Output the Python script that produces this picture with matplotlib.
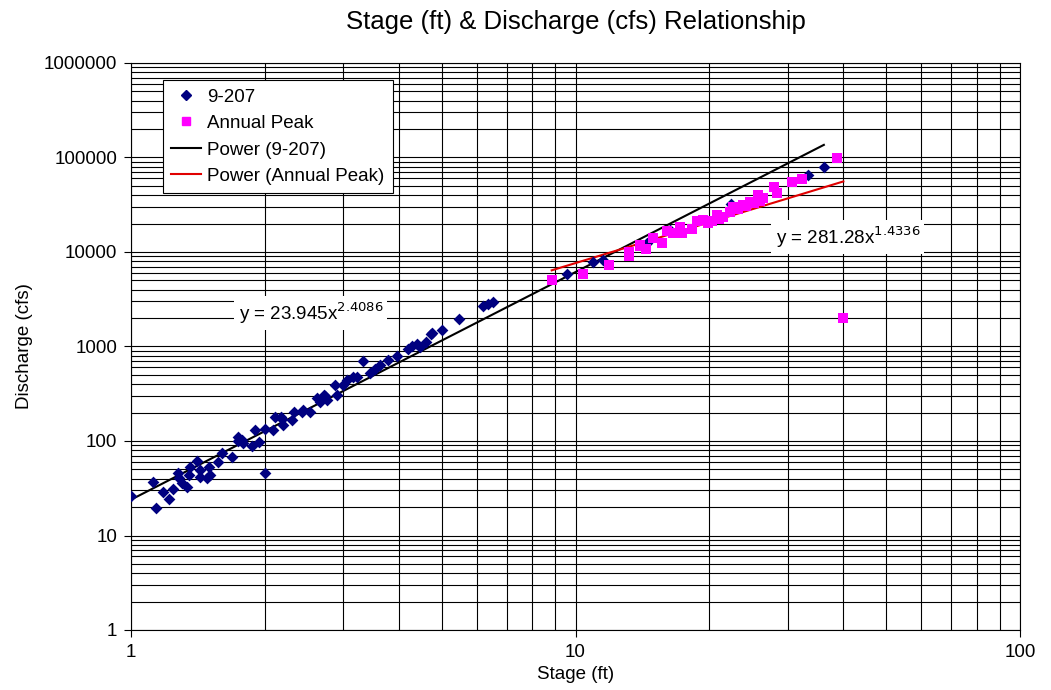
import matplotlib
matplotlib.use("Agg")
import matplotlib.pyplot as plt
from matplotlib.lines import Line2D
from matplotlib.ticker import LogLocator, FixedLocator, NullFormatter, FixedFormatter
import numpy as np

plt.rcParams['font.family'] = ['Liberation Sans', 'DejaVu Sans']

# Series "9-207"
stage_9207 = [1.00, 1.12, 1.136, 1.18, 1.22, 1.245, 1.278, 1.285, 1.30, 1.335, 1.352, 1.357,
              1.41, 1.43, 1.43, 1.485, 1.50, 1.506, 1.572, 1.605, 1.685, 1.744, 1.745, 1.775,
              1.789, 1.869, 1.901, 1.944, 2.002, 2.0, 2.09, 2.109, 2.18, 2.183, 2.195, 2.30,
              2.327, 2.43, 2.44, 2.527, 2.617, 2.66, 2.717, 2.73, 2.755, 2.876, 2.902, 3.005,
              3.057, 3.154, 3.219, 3.32, 3.45, 3.54, 3.63, 3.79, 3.96, 4.21, 4.28, 4.39, 4.47,
              4.62, 4.73, 4.75, 5.0, 5.48, 6.20, 6.37, 6.53, 9.58, 10.96, 11.55, 14.46, 16.32,
              22.35, 33.4, 36.2]
flow_9207 = [26.4, 37.1, 19.7, 28.9, 24.3, 31, 45.5, 40.3, 35.7, 32.8, 43.6, 52.7,
             61.9, 49.3, 41.9, 40.3, 53.5, 43.6, 60.4, 74.1, 67.2, 100.7, 111, 102.5,
             94.6, 88.5, 130.7, 98.4, 133, 45.5, 130.7, 178, 181, 170, 147.6, 167,
             204, 204, 213, 204, 283, 261, 307, 299, 272, 392, 307, 392,
             442, 472, 479, 707, 520, 574, 637, 719, 793, 934, 1012, 1062, 995,
             1124, 1356, 1400, 1496, 1942, 2684, 2800, 2980, 5808, 7890, 8227, 12360, 17100,
             32200, 65300, 78700]

# Series "Annual Peak"
stage_peak = [8.84, 10.38, 11.89, 13.21, 13.21, 13.97, 14.0, 14.41, 14.96, 15.63, 16.04, 16.6,
              17.18, 17.33, 18.24, 18.74, 19.39, 19.9, 20.24, 20.78, 21.0, 21.5, 22.27, 22.65,
              23.2, 23.84, 24.2, 24.7, 25.2, 25.77, 26.0, 26.46, 27.97, 28.35, 30.77, 32.27,
              38.7, 40.05]
flow_peak = [5058, 5850, 7280, 10070, 9070, 11580, 12000, 10690, 13960, 12530, 16790, 16000,
             18520, 15770, 17380, 21290, 21810, 20500, 21290, 24630, 22500, 23660, 26720, 30200,
             28500, 31420, 30500, 34050, 33000, 40110, 35000, 37000, 49100, 41800, 55500, 58800,
             98000, 2018]

# Power trendlines (from the chart's equations)
coef_9207, exp_9207 = 23.945, 2.4086
coef_peak, exp_peak = 281.28, 1.4336

y_ticks = [1, 10, 100, 1000, 10000, 100000, 1000000]
y_tick_labels = ['1', '10', '100', '1000', '10000', '100000', '1000000']
x_ticks = [1, 10, 100]
x_tick_labels = ['1', '10', '100']

FS = 13.5

fig = plt.figure(figsize=(10.51, 6.90), dpi=100)
ax = fig.add_axes([131/1051, 1-630/690, (1020-131)/1051, (630-63)/690])
ax.set_xscale('log')
ax.set_yscale('log')
ax.set_xlim(1, 100)
ax.set_ylim(1, 1000000)

ax.xaxis.set_major_locator(FixedLocator(x_ticks))
ax.xaxis.set_major_formatter(FixedFormatter(x_tick_labels))
ax.yaxis.set_major_locator(FixedLocator(y_ticks))
ax.yaxis.set_major_formatter(FixedFormatter(y_tick_labels))
ax.xaxis.set_minor_locator(LogLocator(base=10, subs=np.arange(2, 10)))
ax.yaxis.set_minor_locator(LogLocator(base=10, subs=np.arange(2, 10)))
ax.xaxis.set_minor_formatter(NullFormatter())
ax.yaxis.set_minor_formatter(NullFormatter())
ax.tick_params(which='minor', length=0)
ax.tick_params(which='major', length=5, width=0.8, direction='out', labelsize=FS,
               colors='black', pad=5)
ax.grid(True, which='both', color='black', linewidth=0.8)
ax.set_axisbelow(True)
for s in ax.spines.values():
    s.set_color('black')
    s.set_linewidth(0.8)

# trend lines
xs1 = np.geomspace(min(stage_9207), max(stage_9207), 100)
ax.plot(xs1, coef_9207 * xs1 ** exp_9207, color='black', lw=1.5, zorder=3)
xs2 = np.geomspace(min(stage_peak), max(stage_peak), 100)
ax.plot(xs2, coef_peak * xs2 ** exp_peak, color='#e00000', lw=1.5, zorder=3)

ax.scatter(stage_9207, flow_9207, marker='D', s=36, color='#000080', zorder=4, linewidths=0)
ax.scatter(stage_peak, flow_peak, marker='s', s=52, color='#ff00ff', zorder=5, linewidths=0)

# equation labels
ax.text(2.54, 2260, 'y = 23.945x$^{2.4086}$', fontsize=FS, ha='center', va='center',
        bbox=dict(facecolor='white', edgecolor='none', pad=3), zorder=6)
ax.text(41.0, 14400, 'y = 281.28x$^{1.4336}$', fontsize=FS, ha='center', va='center',
        bbox=dict(facecolor='white', edgecolor='none', pad=3), zorder=6)

handles = [
    Line2D([], [], marker='D', color='#000080', linestyle='none', markersize=5),
    Line2D([], [], marker='s', color='#ff00ff', linestyle='none', markersize=6),
    Line2D([], [], color='black', lw=1.5),
    Line2D([], [], color='#e00000', lw=1.5),
]
labels = ['9-207', 'Annual Peak', 'Power (9-207)', 'Power (Annual Peak)']
leg = ax.legend(handles, labels, loc='upper left', bbox_to_anchor=(32/889, 1-17/567),
                borderaxespad=0, fontsize=FS, frameon=True, fancybox=False, framealpha=1,
                edgecolor='black', handlelength=1.6, handletextpad=0.3, borderpad=0.45,
                labelspacing=0.5)
leg.get_frame().set_linewidth(0.8)
leg.set_zorder(10)

ax.set_xlabel('Stage (ft)', fontsize=FS, labelpad=4)
ax.set_ylabel('Discharge (cfs)', fontsize=FS, labelpad=8)
fig.text(576/1051, 1-22/690, 'Stage (ft) & Discharge (cfs) Relationship', fontsize=18.5,
         ha='center', va='center')

fig.savefig('out.png', dpi=100, facecolor='white')
